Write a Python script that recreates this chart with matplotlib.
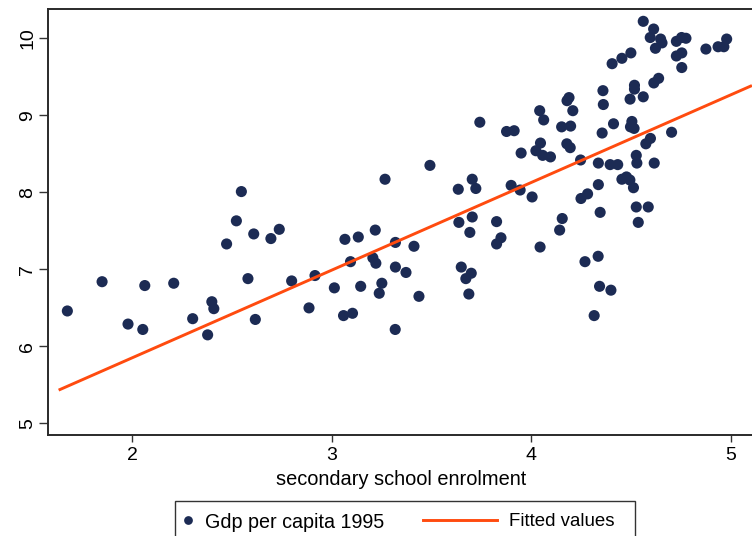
import numpy as np
import matplotlib
matplotlib.use("Agg")
import matplotlib.pyplot as plt
from matplotlib.lines import Line2D
from matplotlib.patches import Rectangle

plt.rcParams["font.family"] = ["Liberation Sans", "DejaVu Sans"]

# secondary school enrolment (log) vs log gdp per capita 1995
school = [1.676, 1.85, 1.98, 2.054, 2.064, 2.209, 2.304, 2.379, 2.40, 2.41,
          2.474, 2.523, 2.548, 2.581, 2.61, 2.618, 2.696, 2.738, 2.80, 2.917,
          2.887, 3.014, 3.067, 3.134, 3.06, 3.105, 3.095, 3.146, 3.219, 3.207,
          3.222, 3.268, 3.252, 3.239, 3.319, 3.32, 3.32, 3.373, 3.413, 3.438,
          3.493, 3.635, 3.705, 3.723, 3.638, 3.705, 3.693, 3.65, 3.70, 3.673,
          3.688, 3.743, 3.877, 3.915, 3.90, 3.827, 3.849, 3.827, 3.945, 4.005,
          3.95, 4.024, 4.047, 4.058, 4.097, 4.043, 4.063, 4.045, 4.156, 4.143,
          4.153, 4.198, 4.19, 4.18, 4.209, 4.179, 4.196, 4.248, 4.25, 4.283,
          4.27, 4.336, 4.316, 4.343, 4.40, 4.346, 4.337, 4.337, 4.356, 4.362,
          4.36, 4.406, 4.455, 4.50, 4.413, 4.396, 4.434, 4.455, 4.478, 4.495,
          4.513, 4.527, 4.53, 4.498, 4.505, 4.516, 4.518, 4.518, 4.496, 4.562,
          4.527, 4.587, 4.537, 4.575, 4.598, 4.617, 4.704, 4.615, 4.639, 4.562,
          4.614, 4.597, 4.649, 4.656, 4.623, 4.728, 4.754, 4.776, 4.728, 4.755,
          4.755, 4.876, 4.937, 4.966, 4.98]
gdp = [6.46, 6.84, 6.29, 6.22, 6.79, 6.82, 6.36, 6.15, 6.58, 6.49,
       7.33, 7.63, 8.01, 6.88, 7.46, 6.35, 7.40, 7.52, 6.85, 6.92,
       6.50, 6.76, 7.39, 7.42, 6.40, 6.43, 7.10, 6.78, 7.51, 7.15,
       7.08, 8.17, 6.82, 6.69, 6.22, 7.35, 7.03, 6.96, 7.30, 6.65,
       8.35, 8.04, 8.17, 8.05, 7.61, 7.68, 7.48, 7.03, 6.95, 6.88,
       6.68, 8.91, 8.79, 8.80, 8.09, 7.62, 7.41, 7.33, 8.03, 7.94,
       8.51, 8.54, 8.64, 8.48, 8.46, 9.06, 8.94, 7.29, 7.66, 7.51,
       8.85, 8.86, 9.23, 9.19, 9.06, 8.63, 8.58, 8.42, 7.92, 7.98,
       7.10, 7.17, 6.40, 6.78, 6.73, 7.74, 8.10, 8.38, 8.77, 9.14,
       9.32, 9.67, 9.74, 9.81, 8.89, 8.36, 8.36, 8.17, 8.20, 8.16,
       8.06, 8.48, 8.38, 8.85, 8.92, 8.83, 9.39, 9.34, 9.21, 9.24,
       7.81, 7.81, 7.61, 8.63, 8.70, 8.38, 8.78, 9.42, 9.48, 10.22,
       10.12, 10.01, 9.99, 9.94, 9.87, 9.96, 10.01, 10.00, 9.77, 9.81,
       9.62, 9.86, 9.89, 9.89, 9.99]

# fitted line end points
fit_x = [1.639, 5.10]
fit_slope = 1.138
fit_intercept = 3.575

x_ticks = [2, 3, 4, 5]
y_ticks = [5, 6, 7, 8, 9, 10]
legend_labels = ["Gdp per capita 1995", "Fitted values"]

navy = "#1c2b54"
orange = "#ff4b0f"
W, H = 752, 536

fig = plt.figure(figsize=(W / 100, H / 100), dpi=100)
ax = fig.add_axes([48 / W, 1 - 435 / H, (754 - 48) / W, (435 - 9) / H])

ax.scatter(school, gdp, s=64, color=navy, edgecolors="none", zorder=3)
fx = np.array(fit_x)
ax.plot(fx, fit_intercept + fit_slope * fx, color=orange, lw=2.1, zorder=4)

ax.set_xlim(1.579, 5.117)
ax.set_ylim(4.85, 10.38)
ax.set_xticks(x_ticks)
ax.set_yticks(y_ticks)
ax.tick_params(axis="both", direction="out", width=1, colors="#333333",
               labelcolor="black", labelsize=14)
ax.tick_params(axis="x", length=5, pad=4)
ax.tick_params(axis="y", length=6.5, pad=2)
for lab in ax.get_yticklabels():
    lab.set_rotation(90)
    lab.set_va("center")
for sp in ax.spines.values():
    sp.set_color("#2a2a2a")
    sp.set_linewidth(1.4)

ax.set_xlabel("secondary school enrolment", fontsize=14.4, labelpad=4)

# legend box below the plot, as in the original
fig.add_artist(Rectangle((175 / W, -0.05), (635 - 175) / W, 0.05 + (536 - 501) / H,
                         transform=fig.transFigure, facecolor="white",
                         edgecolor="#333333", lw=1))
ly = 1 - 520 / H
fig.add_artist(Line2D([188 / W], [ly], transform=fig.transFigure, marker="o",
                      ms=6.3, color=navy, markeredgewidth=0, linestyle="none"))
fig.text(205 / W, ly - 2 / H, legend_labels[0], fontsize=14.2, va="center")
fig.add_artist(Line2D([423 / W, 497 / W], [ly, ly], transform=fig.transFigure,
                      color=orange, lw=2.1))
fig.text(509 / W, ly - 2 / H, legend_labels[1], fontsize=13.4, va="center")

fig.savefig("out.png", dpi=100)
